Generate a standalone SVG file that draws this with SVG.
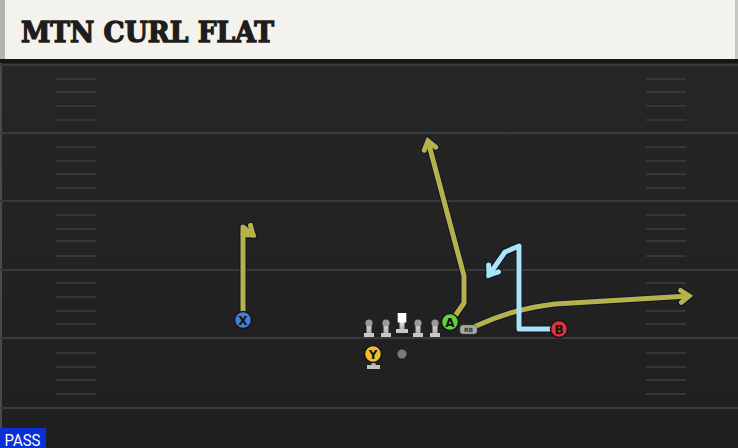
<svg xmlns="http://www.w3.org/2000/svg" width="738" height="448" viewBox="0 0 738 448">
  <defs>
    <linearGradient id="field" x1="0" y1="0" x2="0" y2="1">
      <stop offset="0" stop-color="#272727"/>
      <stop offset="1" stop-color="#1f1f1f"/>
    </linearGradient>
    <linearGradient id="olGrad" x1="0" y1="0" x2="0" y2="1">
      <stop offset="0" stop-color="#e2e2e2"/>
      <stop offset="1" stop-color="#a8a8a8"/>
    </linearGradient>
    <marker id="arrOut" markerUnits="userSpaceOnUse" markerWidth="30" markerHeight="30" refX="0" refY="0" viewBox="-15 -15 30 30" orient="auto" overflow="visible">
      <path d="M-8,-6 L0,0 L-8,6" fill="none" stroke="#13132a" stroke-width="7" stroke-linecap="round" stroke-linejoin="miter"/>
    </marker>
    <marker id="arrOlive" markerUnits="userSpaceOnUse" markerWidth="30" markerHeight="30" refX="0" refY="0" viewBox="-15 -15 30 30" orient="auto" overflow="visible">
      <path d="M-8,-6 L0,0 L-8,6" fill="none" stroke="#b5b24b" stroke-width="5" stroke-linecap="round" stroke-linejoin="miter"/>
    </marker>
    <marker id="arrBlue" markerUnits="userSpaceOnUse" markerWidth="30" markerHeight="30" refX="0" refY="0" viewBox="-15 -15 30 30" orient="auto" overflow="visible">
      <path d="M-8,-6 L0,0 L-8,6" fill="none" stroke="#a9e5f6" stroke-width="5" stroke-linecap="round" stroke-linejoin="miter"/>
    </marker>
    <g id="lineman">
      <rect x="-2.5" y="0" width="5" height="11" fill="url(#olGrad)"/>
      <rect x="-5" y="10" width="10" height="4" fill="#c8c8c8"/>
      <circle cx="0" cy="0" r="3.6" fill="#9a9a9a"/>
    </g>
    <g id="center">
      <rect x="-2.5" y="0" width="5" height="8" fill="url(#olGrad)"/>
      <rect x="-6" y="7" width="12" height="4" fill="#c8c8c8"/>
      <rect x="-4.3" y="-9" width="8.6" height="9.5" fill="#ffffff"/>
    </g>
  </defs>
  <style>
    .yard { stroke: #3a3a3a; stroke-width: 2; }
    .hash { stroke: #363636; stroke-width: 2; }
    .out { fill: none; stroke: #13132a; stroke-width: 7; stroke-linejoin: round; stroke-linecap: round; marker-end: url(#arrOut); }
    .olive { fill: none; stroke: #b5b24b; stroke-width: 5; stroke-linejoin: round; stroke-linecap: round; marker-end: url(#arrOlive); }
    .blue { fill: none; stroke: #a9e5f6; stroke-width: 5; stroke-linejoin: round; stroke-linecap: round; marker-end: url(#arrBlue); }
    .pl { stroke: #151515; stroke-width: 1.5; }
    .pltxt { font-family: "DejaVu Sans", "Liberation Sans", sans-serif; font-weight: bold; font-size: 12px; fill: #111; text-anchor: middle; }
  </style>

  <!-- field -->
  <rect x="0" y="0" width="738" height="448" fill="url(#field)"/>
  <rect x="0" y="60" width="2" height="368" fill="#4a4a4a"/>
  <rect x="0" y="59" width="738" height="4" fill="#171717"/>
  <g id="yard-lines">
    <line class="yard" x1="0" y1="65" x2="738" y2="65"/>
    <line class="yard" x1="0" y1="133" x2="738" y2="133"/>
    <line class="yard" x1="0" y1="201" x2="738" y2="201"/>
    <line class="yard" x1="0" y1="270" x2="738" y2="270"/>
    <line class="yard" x1="0" y1="338" x2="738" y2="338"/>
    <line class="yard" x1="0" y1="408" x2="738" y2="408"/>
  </g>
  <g id="hash-left">
    <line class="hash" x1="56" y1="79" x2="96" y2="79"/>
    <line class="hash" x1="56" y1="92" x2="96" y2="92"/>
    <line class="hash" x1="56" y1="106" x2="96" y2="106"/>
    <line class="hash" x1="56" y1="120" x2="96" y2="120"/>
    <line class="hash" x1="56" y1="147" x2="96" y2="147"/>
    <line class="hash" x1="56" y1="161" x2="96" y2="161"/>
    <line class="hash" x1="56" y1="174" x2="96" y2="174"/>
    <line class="hash" x1="56" y1="188" x2="96" y2="188"/>
    <line class="hash" x1="56" y1="215" x2="96" y2="215"/>
    <line class="hash" x1="56" y1="229" x2="96" y2="229"/>
    <line class="hash" x1="56" y1="241" x2="96" y2="241"/>
    <line class="hash" x1="56" y1="256" x2="96" y2="256"/>
    <line class="hash" x1="56" y1="283" x2="96" y2="283"/>
    <line class="hash" x1="56" y1="297" x2="96" y2="297"/>
    <line class="hash" x1="56" y1="311" x2="96" y2="311"/>
    <line class="hash" x1="56" y1="324" x2="96" y2="324"/>
    <line class="hash" x1="56" y1="353" x2="96" y2="353"/>
    <line class="hash" x1="56" y1="367" x2="96" y2="367"/>
    <line class="hash" x1="56" y1="380" x2="96" y2="380"/>
    <line class="hash" x1="56" y1="394" x2="96" y2="394"/>
  </g>
  <g id="hash-right">
    <line class="hash" x1="646" y1="79" x2="686" y2="79"/>
    <line class="hash" x1="646" y1="92" x2="686" y2="92"/>
    <line class="hash" x1="646" y1="106" x2="686" y2="106"/>
    <line class="hash" x1="646" y1="120" x2="686" y2="120"/>
    <line class="hash" x1="646" y1="147" x2="686" y2="147"/>
    <line class="hash" x1="646" y1="161" x2="686" y2="161"/>
    <line class="hash" x1="646" y1="174" x2="686" y2="174"/>
    <line class="hash" x1="646" y1="188" x2="686" y2="188"/>
    <line class="hash" x1="646" y1="215" x2="686" y2="215"/>
    <line class="hash" x1="646" y1="229" x2="686" y2="229"/>
    <line class="hash" x1="646" y1="241" x2="686" y2="241"/>
    <line class="hash" x1="646" y1="256" x2="686" y2="256"/>
    <line class="hash" x1="646" y1="283" x2="686" y2="283"/>
    <line class="hash" x1="646" y1="297" x2="686" y2="297"/>
    <line class="hash" x1="646" y1="311" x2="686" y2="311"/>
    <line class="hash" x1="646" y1="324" x2="686" y2="324"/>
    <line class="hash" x1="646" y1="353" x2="686" y2="353"/>
    <line class="hash" x1="646" y1="367" x2="686" y2="367"/>
    <line class="hash" x1="646" y1="380" x2="686" y2="380"/>
    <line class="hash" x1="646" y1="394" x2="686" y2="394"/>
  </g>

  <!-- title -->
  <g id="title">
    <rect x="0" y="0" width="738" height="59" fill="#f4f2ec"/>
    <rect x="0" y="0" width="5" height="59" fill="#b3b3b3"/>
    <rect x="735" y="0" width="3" height="59" fill="#c9c7c1"/>
    <text x="21" y="42" font-family="'DejaVu Serif', 'Liberation Serif', serif" font-weight="bold" font-size="27" fill="#1d1d1d" stroke="#1d1d1d" stroke-width="1.3" textLength="253" lengthAdjust="spacingAndGlyphs">MTN CURL FLAT</text>
  </g>

  <!-- routes -->
  <g id="connectors">
    <path class="out" d="M243,316 L243,227 L253,235"/>
    <path class="out" d="M455,316 L464,303 L464,276 L428,141"/>
    <path class="out" d="M476,326 C495,317 520,308 555,304 L689,296"/>
    <path class="out" d="M552,329 L519,329 L519,246 L505,252 L489,275"/>
    <path class="olive" d="M243,316 L243,227 L253,235"/>
    <path class="olive" d="M455,316 L464,303 L464,276 L428,141"/>
    <path class="olive" d="M476,326 C495,317 520,308 555,304 L689,296"/>
    <path class="blue" d="M552,329 L519,329 L519,246 L505,252 L489,275"/>
  </g>

  <!-- offensive line -->
  <g id="LT"><use href="#lineman" x="369" y="323"/></g>
  <g id="LG"><use href="#lineman" x="386" y="323"/></g>
  <g id="C"><use href="#center" x="402" y="322"/></g>
  <g id="RG"><use href="#lineman" x="418" y="323"/></g>
  <g id="RT"><use href="#lineman" x="435" y="323"/></g>

  <g id="QB"><circle cx="402" cy="354" r="4.5" fill="#7a7a7a"/></g>

  <g id="Y">
    <rect x="371.5" y="360" width="4" height="6" fill="url(#olGrad)"/>
    <rect x="367" y="365" width="13" height="4" fill="#c0c0c0"/>
    <circle class="pl" cx="373" cy="354" r="8.5" fill="#f0c02c"/>
    <text class="pltxt" x="373" y="358.5">Y</text>
  </g>

  <g id="X">
    <circle class="pl" cx="243" cy="320" r="8.5" fill="#3f7edc"/>
    <text class="pltxt" x="243" y="324.5">X</text>
  </g>

  <g id="A">
    <circle class="pl" cx="450" cy="322" r="8.5" fill="#5fd43e"/>
    <text class="pltxt" x="450" y="326.5">A</text>
  </g>

  <g id="RB">
    <rect x="460" y="325" width="17" height="9" rx="3" fill="#a9a9a9" stroke="#555" stroke-width="0.5"/>
    <text x="468.5" y="332" font-family="'DejaVu Sans', sans-serif" font-size="6" font-weight="bold" fill="#333" text-anchor="middle">RB</text>
  </g>

  <g id="B">
    <circle class="pl" cx="559" cy="329" r="8.5" fill="#e0323a"/>
    <text class="pltxt" x="559" y="333.5">B</text>
  </g>

  <g id="pass-label">
    <rect x="0" y="428" width="46" height="20" fill="#0b30d8"/>
    <text x="4.5" y="445.5" font-family="Roboto, 'Liberation Sans', sans-serif" font-size="17" fill="#ffffff" textLength="36" lengthAdjust="spacingAndGlyphs">PASS</text>
  </g>
</svg>
